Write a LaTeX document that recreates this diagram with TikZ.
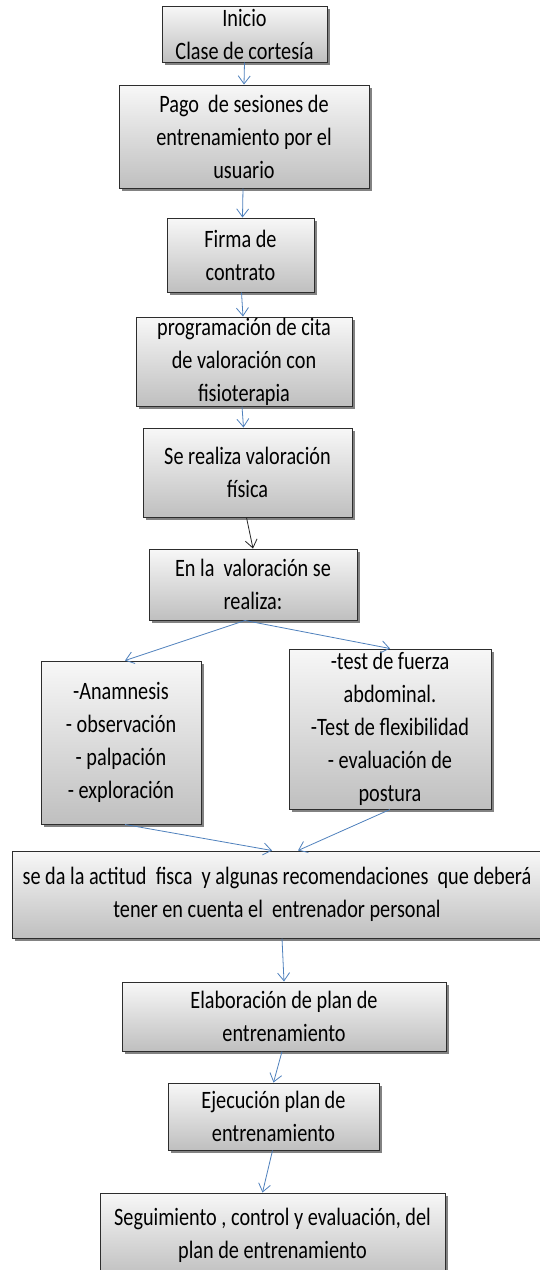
\documentclass[tikz,border=0pt]{standalone}
\usepackage{fontspec}
\setmainfont{Carlito}[FakeStretch=0.81]
\usetikzlibrary{arrows.meta,shadows}
\definecolor{azulflecha}{RGB}{79,129,189}
\definecolor{borde}{RGB}{45,45,45}

\begin{document}
\begin{tikzpicture}[x=1pt,y=-1pt]
	\tikzset{caja/.style={draw=borde, line width=1pt, top color=gray!6, bottom color=gray!50,
		drop shadow={shadow xshift=2.5pt, shadow yshift=-2.5pt, fill=black!75, opacity=0.65},
		align=center, inner sep=0pt, font=\fontsize{25}{33}\selectfont}}
	\tikzset{flecha/.style={-{Straight Barb[length=8pt,width=12pt]}, draw=azulflecha, line width=0.8pt}}

	\fill[white] (0,0) rectangle (539,1270);
	\useasboundingbox (0,0) rectangle (539,1270);

	% columna principal
	\node[caja, minimum width=165pt, minimum height=56pt] (inicio) at (244.5,34) {Inicio\\Clase de cortesía};
	\node[caja, minimum width=250pt, minimum height=103pt] (pago) at (244,136.5) {Pago\ \ de sesiones de\\entrenamiento por el\\usuario};
	\node[caja, minimum width=147pt, minimum height=74pt] (firma) at (240.5,255) {Firma de\\contrato};
	\node[caja, minimum width=216pt, minimum height=89pt] (cita) at (244,361.5) {programación de cita\\de valoración con\\fisioterapia};
	\node[caja, minimum width=209pt, minimum height=89pt] (fisica) at (247.5,472.5) {Se realiza valoración\\física};
	\node[caja, minimum width=208pt, minimum height=71pt] (realiza) at (253,584.5) {En la\ \ valoración se\\realiza:};

	% ramas
	\node[caja, minimum width=160pt, minimum height=163pt] (anamnesis) at (121,742.5) {-Anamnesis\\- observación\\- palpación\\- exploración};
	\node[caja, minimum width=202pt, minimum height=160pt] (tests) at (390,729) {-test de fuerza\\abdominal.\\-Test de flexibilidad\\- evaluación de\\postura};

	\node[caja, minimum width=530pt, minimum height=87pt] (actitud) at (277,894.5) {se da la actitud\ \ fisca\ \ y algunas recomendaciones\ \ que deberá\\tener en cuenta el\ \ entrenador personal};
	\node[caja, minimum width=324pt, minimum height=69pt] (plan) at (284,1016.5) {Elaboración de plan de\\entrenamiento};
	\node[caja, minimum width=211pt, minimum height=67pt] (ejecucion) at (273.5,1116.5) {Ejecución plan de\\entrenamiento};
	\node[caja, minimum width=345pt, minimum height=84pt] (seguimiento) at (272.5,1235) {Seguimiento , control y evaluación, del\\plan de entrenamiento};

	% flechas
	\draw[flecha] (inicio.south) -- (pago.north);
	\draw[flecha] ([xshift=-1pt]pago.south) -- ([xshift=2pt]firma.north);
	\draw[flecha] ([xshift=1pt]firma.south) -- ([xshift=-1pt]cita.north);
	\draw[flecha] ([xshift=-2pt]cita.south) -- ([xshift=-4pt]fisica.north);
	\draw[-{Straight Barb[length=8pt,width=12pt]}, draw=black!85, line width=0.8pt] ([xshift=-1pt]fisica.south) -- (realiza.north);
	\draw[flecha] ([xshift=-8pt]realiza.south) -- ([xshift=4pt]anamnesis.north);
	\draw[flecha] ([xshift=-8pt]realiza.south) -- (tests.north);
	\draw[flecha] ([xshift=4pt]anamnesis.south) -- ([xshift=-5pt]actitud.north);
	\draw[flecha] (tests.south) -- ([xshift=21pt]actitud.north);
	\draw[flecha] ([xshift=5pt]actitud.south) -- (plan.north);
	\draw[flecha] ([xshift=-2pt]plan.south) -- (ejecucion.north);
	\draw[flecha] ([xshift=-1pt]ejecucion.south) -- ([xshift=-10pt]seguimiento.north);
\end{tikzpicture}
\end{document}
